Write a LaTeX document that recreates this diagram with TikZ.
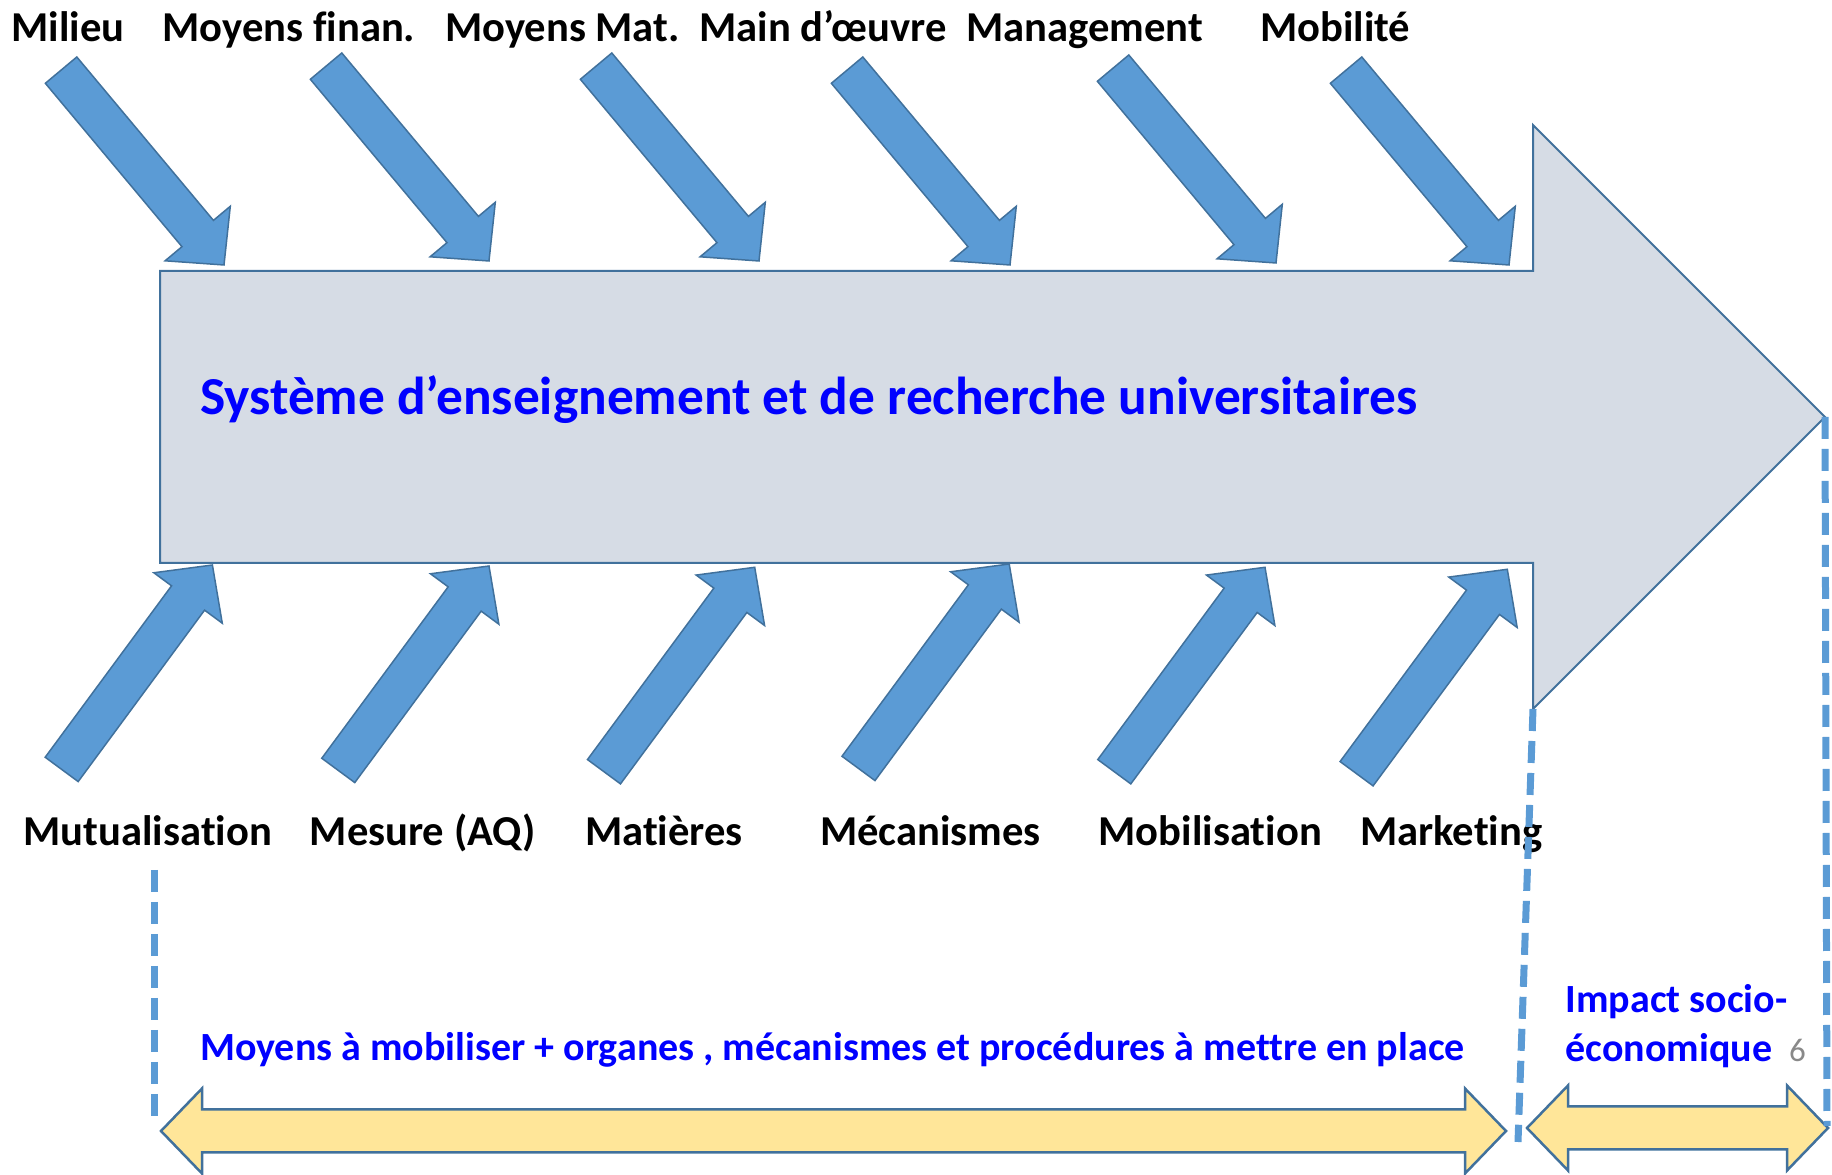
\documentclass[tikz,border=0pt]{standalone}
\usepackage{fontspec}
\setmainfont{Carlito}[Ligatures={NoCommon}]
\definecolor{arrowblue}{HTML}{5B9BD5}
\definecolor{edgeblue}{HTML}{41719C}
\definecolor{bodygray}{HTML}{D6DCE5}
\definecolor{bandyellow}{HTML}{FFE699}
\definecolor{textblue}{HTML}{0000FF}
\definecolor{pagegray}{HTML}{898989}
\tikzset{
  fishbone/.pic={\draw[fill=arrowblue, draw=edgeblue, line width=1.5]
     (0,0) -- (-41,42.5) -- (-41,20.5) -- (-254,20.5) -- (-254,-20.5)
     -- (-41,-20.5) -- (-41,-42.5) -- cycle;},
  lbl/.style={inner sep=0pt, anchor=base west, font=\fontsize{42.6}{50}\selectfont\bfseries},
  bluelbl/.style={inner sep=0pt, anchor=base west, text=textblue, font=\fontsize{40}{48}\selectfont\bfseries},
  guide/.style={draw=arrowblue, line width=7, dash pattern=on 22pt off 10pt},
  band/.style={fill=bandyellow, draw=edgeblue, line width=2.5, line join=miter}
}
\begin{document}
\begin{tikzpicture}[x=1pt,y=1pt]
\useasboundingbox (0,0) rectangle (1832,1175);
% main arrow
\draw[fill=bodygray, draw=edgeblue, line width=2]
  (160,904) -- (1533,904) -- (1533,1050) -- (1825,758) -- (1533,466)
  -- (1533,612) -- (160,612) -- cycle;
\node[bluelbl, font=\fontsize{53.4}{62}\selectfont\bfseries] (title) at (199.8,760)
  {Système d’enseignement et de recherche universitaires};
% top arrows
\path (224,910) pic[rotate=-50.1]{fishbone};
\path (489,914) pic[rotate=-50.1]{fishbone};
\path (759,914) pic[rotate=-50.1]{fishbone};
\path (1010,910) pic[rotate=-50.1]{fishbone};
\path (1276,912) pic[rotate=-50.1]{fishbone};
\path (1509,910) pic[rotate=-50.1]{fishbone};
% bottom arrows
\path (212.4,610) pic[rotate=53.6]{fishbone};
\path (489,609) pic[rotate=53.6]{fishbone};
\path (754.7,607.7) pic[rotate=53.6]{fishbone};
\path (1009.2,611) pic[rotate=53.6]{fishbone};
\path (1265,607.7) pic[rotate=53.6]{fishbone};
\path (1507.3,605.7) pic[rotate=53.6]{fishbone};
% top labels
\node[lbl] (milieu) at (11.5,1133) {Milieu};
\node[lbl] (finan) at (162.5,1133) {Moyens finan.};
\node[lbl] (mat) at (445,1133) {Moyens Mat.};
\node[lbl] (main) at (699.5,1133) {Main d’œuvre};
\node[lbl] (mgmt) at (966,1133) {Management};
\node[lbl] (mobil) at (1260,1133) {Mobilité};
% bottom labels
\node[lbl] (mutu) at (23.5,329) {Mutualisation};
\node[lbl] (mesure) at (309.6,329) {Mesure (AQ)};
\node[lbl] (matieres) at (585,329) {Matières};
\node[lbl] (meca) at (820,329) {Mécanismes};
\node[lbl] (mobilis) at (1098.5,329) {Mobilisation};
\node[lbl] (mark) at (1360,329) {Marketing};
% yellow double arrows
\draw[band] (161,44) -- (202,86.5) -- (202,65.5) -- (1465,65.5) -- (1465,86.5)
  -- (1506,44) -- (1465,1.5) -- (1465,22.5) -- (202,22.5) -- (202,1.5) -- cycle;
\draw[band] (1527,47) -- (1568,89.5) -- (1568,68.5) -- (1787,68.5) -- (1787,89.5)
  -- (1828,47) -- (1787,4.5) -- (1787,25.5) -- (1568,25.5) -- (1568,4.5) -- cycle;
% bottom texts
\node[bluelbl] (means) at (200,114)
  {Moyens à mobiliser + organes , mécanismes et procédures à mettre en place};
\node[bluelbl] (impact1) at (1565.5,162) {Impact socio-};
\node[bluelbl] (impact2) at (1565.5,113) {économique};
\node[inner sep=0pt, anchor=base west, text=pagegray, font=\fontsize{33}{40}\selectfont] (pagenum) at (1789,113) {6};
% dashed guides
\coordinate (g1a) at (154,305);
\coordinate (g1b) at (154,55);
\coordinate (g2a) at (1533,466);
\coordinate (g2b) at (1518,33);
\coordinate (g3a) at (1825,758);
\coordinate (g3b) at (1827,49);
\draw[guide] (g1a) -- (g1b);
\draw[guide] (g2a) -- (g2b);
\draw[guide] (g3a) -- (g3b);
\end{tikzpicture}
\end{document}
